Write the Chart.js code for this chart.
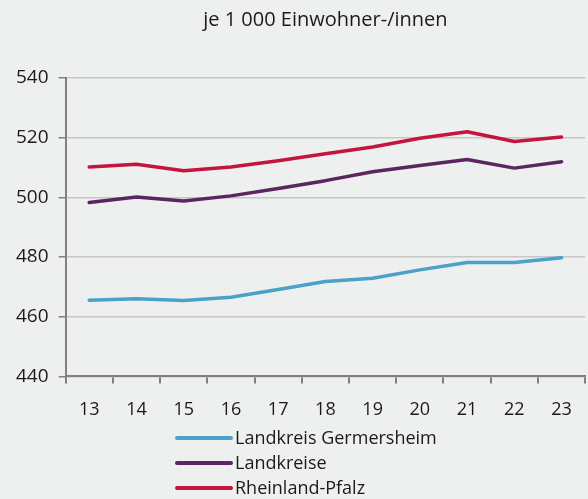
<!DOCTYPE html>
<html>
<head>
<meta charset="utf-8">
<script src="https://cdn.jsdelivr.net/npm/chart.js@4.4.1/dist/chart.umd.min.js"></script>
<style>
  html, body { margin: 0; padding: 0; background: #eef0ef; }
  #wrap { width: 588px; height: 499px; position: relative; }
</style>
</head>
<body>
<div id="wrap"><canvas id="c"></canvas></div>
<script>
  'use strict'
  var years = ['13', '14', '15', '16', '17', '18', '19', '20', '21', '22', '23']
  var germersheim = [465.5, 466.0, 465.4, 466.5, 469.1, 471.8, 472.9, 475.7, 478.2, 478.2, 479.8]
  var landkreise = [498.3, 500.1, 498.8, 500.5, 503.0, 505.6, 508.6, 510.7, 512.7, 509.8, 511.9]
  var rheinlandPfalz = [510.2, 511.1, 508.9, 510.2, 512.3, 514.6, 516.9, 519.8, 522.0, 518.7, 520.2]
  var yTicks = [440, 460, 480, 500, 520, 540]

  var font = '"Open Sans", "Noto Sans", sans-serif'

  // legend drawn as one item per row, left aligned, under the axis
  var rowLegend = {
    id: 'rowLegend',
    afterDraw: function (chart) {
      var ctx = chart.ctx
      var x0 = 177
      var y0 = 438
      ctx.save()
      ctx.font = '18px ' + font
      ctx.textBaseline = 'middle'
      chart.data.datasets.forEach(function (ds, i) {
        var y = y0 + i * 25
        ctx.strokeStyle = ds.borderColor
        ctx.lineWidth = 4
        ctx.lineCap = 'round'
        ctx.beginPath()
        ctx.moveTo(x0, y)
        ctx.lineTo(x0 + 54, y)
        ctx.stroke()
        ctx.fillStyle = '#1a1a1a'
        ctx.fillText(ds.label, x0 + 58, y + 1)
      })
      ctx.restore()
    }
  }

  new Chart(document.getElementById('c'), {
    type: 'line',
    data: {
      labels: years,
      datasets: [
        { label: 'Landkreis Germersheim', data: germersheim, borderColor: '#4ba1c7' },
        { label: 'Landkreise', data: landkreise, borderColor: '#5a2662' },
        { label: 'Rheinland-Pfalz', data: rheinlandPfalz, borderColor: '#c3153f' }
      ]
    },
    options: {
      responsive: true,
      maintainAspectRatio: false,
      animation: false,
      elements: {
        line: { borderWidth: 3.5, tension: 0, borderCapStyle: 'round', borderJoinStyle: 'round' },
        point: { radius: 0 }
      },
      layout: { padding: { left: 6, right: 0, top: 0, bottom: 62 } },
      plugins: {
        legend: { display: false },
        tooltip: { enabled: false },
        title: {
          display: true,
          fullSize: false,
          text: 'je 1 000 Einwohner-/innen',
          color: '#1a1a1a',
          font: { family: font, size: 20, weight: 'normal' },
          padding: { top: 8, bottom: 46 }
        }
      },
      scales: {
        x: {
          offset: true,
          grid: { offset: true, drawOnChartArea: false, color: '#808080', lineWidth: 2, tickLength: 7 },
          border: { color: '#808080', width: 2 },
          ticks: { color: '#1a1a1a', font: { family: font, size: 18 }, padding: 16, maxRotation: 0 }
        },
        y: {
          min: 440,
          max: 540,
          afterBuildTicks: function (axis) {
            axis.ticks = yTicks.map(function (v) { return { value: v } })
          },
          grid: { color: '#c6c7c6', lineWidth: 1.5, tickLength: 7, tickColor: '#808080' },
          border: { color: '#808080', width: 2 },
          ticks: { color: '#1a1a1a', font: { family: font, size: 19 }, padding: 10 }
        }
      }
    },
    plugins: [rowLegend]
  })
</script>
</body>
</html>
